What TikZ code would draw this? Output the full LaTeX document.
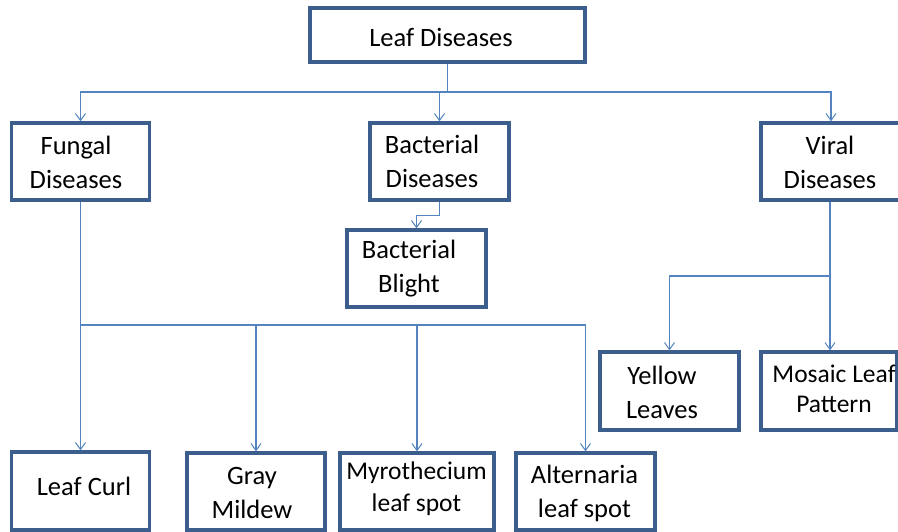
\documentclass[tikz,border=0pt]{standalone}
\usepackage{fontspec}
\setmainfont{Carlito}
\usetikzlibrary{arrows.meta,calc}
\definecolor{boxc}{RGB}{60,94,140}
\definecolor{linec}{RGB}{84,132,192}
\tikzset{
  box/.style={draw=boxc, line width=3.3pt, fill=white, inner sep=0pt},
  txt/.style={align=center, font=\fontsize{26.5}{34}\selectfont, inner sep=0pt, text=black},
  conn/.style={draw=linec, line width=1.2pt},
  arr/.style={conn, -{Straight Barb[length=7pt,width=10pt,line width=1pt]}}
}
\begin{document}
\begin{tikzpicture}[x=1pt,y=-1pt]
\useasboundingbox (0,0) rectangle (898,531);
\clip (0,0) rectangle (898,531);
% boxes
\node[box, minimum width=275pt, minimum height=54pt] (root) at (447.5,35) {};
\node[box, minimum width=138pt, minimum height=77pt] (fungal) at (80.5,161.5) {};
\node[box, minimum width=139pt, minimum height=77pt] (bact) at (439.5,161.5) {};
\node[box, minimum width=140pt, minimum height=77pt] (viral) at (831,161.5) {};
\node[box, minimum width=139pt, minimum height=77pt] (blight) at (416.5,268.5) {};
\node[box, minimum width=139pt, minimum height=78pt] (yellow) at (669.5,391) {};
\node[box, minimum width=136pt, minimum height=78pt] (mosaic) at (829,391) {};
\node[box, minimum width=138pt, minimum height=78pt] (curl) at (80.5,491) {};
\node[box, minimum width=138pt, minimum height=77pt] (gray) at (256,491.5) {};
\node[box, minimum width=154pt, minimum height=77pt] (myro) at (417,491.5) {};
\node[box, minimum width=139pt, minimum height=77pt] (alt) at (585.5,491.5) {};
% texts
\node[txt] (troot) at (441,37) {Leaf Diseases};
\node[txt] (tfungal) at (76,162.5) {Fungal\\Diseases};
\node[txt] (tbact) at (432,161.5) {Bacterial\\Diseases};
\node[txt] (tviral) at (830,162.5) {Viral\\Diseases};
\node[txt] (tblight) at (409,268.5) {Bacterial\\Blight};
\node[txt] (tyellow) at (662,392.5) {Yellow\\Leaves};
\node[txt, font=\fontsize{25.5}{30}\selectfont] (tmosaic) at (834,389) {Mosaic Leaf\\Pattern};
\node[txt] (tcurl) at (84,486) {Leaf Curl};
\node[txt] (tgray) at (252,492.5) {Gray\\Mildew};
\node[txt, font=\fontsize{25.5}{32}\selectfont] (tmyro) at (416.5,489) {Myrothecium\\leaf spot};
\node[txt] (talt) at (584.5,493.5) {Alternaria\\leaf spot};
% junctions
\coordinate (j1) at (447.5,92);
\coordinate (j2) at (80.5,325);
\coordinate (j3) at (830,276);
% connectors
\draw[conn] (root.south) -- (j1);
\draw[arr] (j1) -| (fungal.north);
\draw[arr] (j1) -| (viral.north);
\draw[arr] (j1 -| bact.north) -- (bact.north);
\draw[arr] (bact.south) -- ++(0,14) -| (blight.north);
\draw[arr] (fungal.south) -- (curl.north);
\draw[arr] (j2) -| (gray.north);
\draw[arr] (j2) -| (myro.north);
\draw[arr] (j2) -| (alt.north);
\draw[conn] (viral.south -| j3) -- (j3);
\draw[arr] (j3) -- (j3 |- mosaic.north);
\draw[arr] (j3) -| (yellow.north);
\end{tikzpicture}
\end{document}
